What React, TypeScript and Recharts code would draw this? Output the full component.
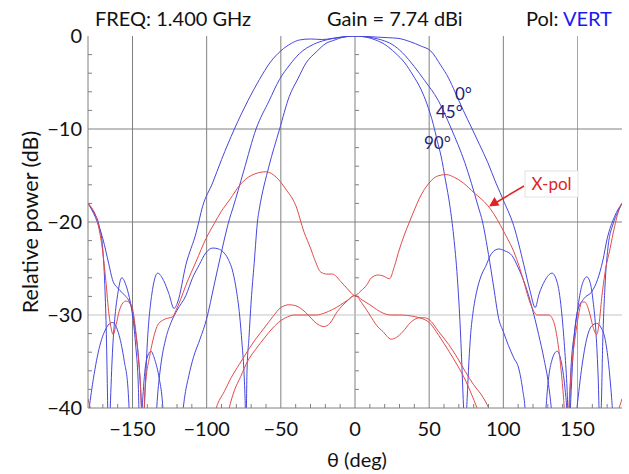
import React from 'react';
import { LineChart, Line, XAxis, YAxis, ReferenceLine } from 'recharts';

// ---------- data (theta in deg, relative power in dB) ----------
const co0Theta = [-180, -175, -170, -166, -163.5, -160, -157, -154.5, -152, -150, -148, -146, -144.5, -143, -141.5, -140, -137, -133, -129, -125.5, -122, -119.5, -114, -107, -102.7, -96, -90, -81.3, -72, -64.5, -57, -50, -43, -37.5, -30, -22, -15, -8, 0,
  8, 15, 22, 29, 37, 44.7, 51, 58, 63, 67.4, 73, 79, 84, 89.5, 95, 100.7, 107, 113.8, 118, 121.5, 124, 128, 132.8, 136.5, 139.5, 141.5, 143, 144, 145.5, 148, 150, 154.5, 159.6, 163.5, 167, 170, 175, 180];
const co0Power = [-18, -19.5, -21.8, -24.5, -26.2, -27.1, -27.6, -28, -28.6, -29.6, -31.8, -34.5, -38, -42, -38, -33, -27.8, -25.5, -26.3, -27.7, -29.3, -28.6, -24.6, -21.1, -18.3, -15.8, -13.3, -10, -6.9, -4.7, -2.8, -1.6, -0.8, -0.43, -0.32, -0.38, -0.25, -0.08, 0,
  -0.05, -0.12, -0.18, -0.25, -0.6, -1.1, -1.6, -3.2, -4.5, -6, -8, -10, -11.7, -13.6, -15.8, -17.9, -20.4, -24.6, -27.4, -29.2, -27.8, -26.3, -25.5, -26.6, -30, -34, -38, -42, -36, -31.8, -29.6, -28.2, -27.5, -26.2, -24.2, -21.8, -19.4, -18];

const co45Theta = [-180, -176, -172.5, -170, -168.5, -167.5, -166.7, -166, -165, -163.5, -162, -160, -157.2, -154, -151.5, -150, -148, -146, -145, -143.5, -141.5, -139.5, -137.6, -135, -132, -130, -128.6, -122, -116.5, -115, -112, -109, -104.5, -100, -95, -90, -84.5, -82.5, -75, -66.7, -58, -51, -44, -37.5, -28, -19.6, -12, -6, 0,
  6, 12, 18, 25, 32, 40, 47, 56, 65, 74, 83, 86, 90, 93.5, 96.9, 100, 103.5, 107, 110.3, 113, 114.8, 116, 122, 128.3, 130, 132.5, 136.2, 139, 141.5, 142.9, 144, 145.5, 147.5, 150, 153, 156.3, 158.5, 160.5, 162.5, 164, 165, 166, 167, 168.5, 170.5, 174, 177, 180];
const co45Power = [-18, -19, -20.4, -23, -27.5, -33, -40, -45, -40, -34, -30.5, -27.8, -26, -27, -28.6, -30, -33, -38, -44, -40, -35.8, -34.3, -33.9, -34.8, -36.8, -39, -42, -50, -41, -39, -36.5, -34.6, -32.6, -30.4, -26.8, -23.2, -19.6, -18.6, -14.5, -10, -7, -4.7, -3.1, -1.9, -0.9, -0.43, -0.2, -0.07, 0,
  -0.07, -0.2, -0.43, -0.9, -1.8, -3.3, -4.8, -6.9, -10, -13.6, -18.3, -20, -23.5, -27, -30.4, -31.8, -33.3, -34.6, -35.7, -38, -40.5, -46, -50, -41, -37.5, -35, -33.9, -35, -37.8, -40.5, -45, -39, -33, -29.5, -26.8, -25.9, -26.5, -28.5, -32, -37, -42, -40, -33, -27, -22.8, -20.2, -19, -18];

const co90Theta = [-180, -177, -172.5, -168, -163.5, -159, -155.5, -153, -152.3, -151, -145, -138, -134.5, -133, -131, -127.5, -124, -120, -114, -109.5, -105, -100.5, -95.8, -92, -89, -85.5, -82.3, -79.8, -77.8, -76.2, -75.1, -74.2, -73.5, -72.8, -71.5, -70, -68, -65.5, -64.5, -58, -51, -44.3, -38.5, -33, -26, -19.6, -14, -8.3, 0,
  8, 13.4, 20, 27, 33.6, 39, 44.7, 48.5, 52.8, 55.5, 58, 61, 64, 66.5, 69, 71, 72.2, 73.2, 74.2, 75.6, 76.8, 78, 79.5, 82, 85, 88, 92, 96.9, 101, 105.8, 110, 114.8, 119, 123.8, 127.5, 130.5, 132.7, 134.5, 142, 149.6, 153, 156.3, 159.5, 162.9, 166, 168.5, 171, 173, 174, 177, 180];
const co90Power = [-41, -37.5, -33.6, -31.5, -30.8, -32.2, -35, -38, -40, -44, -50, -48, -42, -38.5, -35.5, -32.5, -30.8, -29.5, -27.9, -26, -24.6, -23.3, -22.8, -22.9, -23.2, -24, -25.4, -27.5, -30, -33, -35.4, -38.5, -42, -36, -32.5, -28.5, -24.5, -19.6, -18.6, -14, -10.1, -6.5, -4.6, -2.9, -1.7, -0.8, -0.45, -0.14, 0,
  -0.14, -0.4, -0.9, -1.8, -2.9, -4.2, -5.8, -7.3, -9.5, -11.3, -12.9, -15.5, -18.3, -21.5, -26, -31.5, -36, -40, -43, -39, -35, -32, -29.8, -27.5, -25.8, -24.8, -23.4, -22.9, -23.1, -23.6, -24.9, -26.8, -29, -32.1, -34.8, -37.5, -40.7, -45, -50, -40, -35.5, -32.5, -31.2, -30.9, -31.4, -32.5, -35.3, -38.9, -41, -43, -40.5];

const xpol45Theta = [-180, -177, -174.8, -172.5, -170.3, -168, -165.8, -164.3, -163.1, -161, -159, -156.5, -154.5, -152, -150, -148.2, -146.6, -144.5, -143, -141.5, -138.5, -136.5, -133.1, -130, -127.5, -123, -120.7, -117.5, -114, -107, -100.5, -95, -90.3, -84, -78, -70, -60, -53, -46.5, -40, -34.3, -30, -27.5, -23, -19, -15.2, -9.6, -5, 0,
  4, 7.8, 11, 15.6, 19, 23.3, 26.5, 30, 33, 36.7, 40.3, 43.3, 50, 55, 61.5, 67, 73, 80.5, 85, 89.3, 93.5, 98.2, 102.5, 107.1, 110.5, 113.8, 117, 120.5, 122.8, 127, 130.6, 133.9, 135.8, 137.3, 139, 140.6, 142.8, 144.5, 145.8, 147.5, 149.6, 151.5, 153, 155, 156.3, 158.5, 160.5, 162.9, 164.5, 166.3, 168.5, 171.9, 175, 178.6, 180];
const xpol45Power = [-18, -18.6, -19.3, -20.8, -22.9, -26.3, -30, -31.5, -32.1, -31, -29.6, -28.7, -28.5, -28.7, -29.3, -31.2, -33.6, -38, -44, -38, -34.5, -32.9, -31.1, -30.6, -30.4, -30.2, -29.5, -28.3, -26.8, -24.2, -21.8, -20.2, -18.9, -17.5, -16.1, -15, -14.6, -15.2, -16.5, -18.2, -21.1, -22.8, -23.9, -25.4, -25.6, -25.6, -26.4, -27.2, -27.9,
  -27.4, -26.8, -26, -25.7, -25.8, -26.1, -24.8, -22.9, -21.5, -20, -18.6, -17.5, -15.8, -15.1, -14.9, -15.2, -15.8, -16.9, -17.5, -18.2, -19.1, -20.4, -21.7, -23.2, -24.7, -26.4, -28.2, -29.6, -30, -30, -30, -30.7, -32, -33.6, -36, -38.9, -44, -39, -36, -33.5, -31.1, -29.3, -28.6, -28.6, -28.9, -30, -31.3, -32.1, -31, -28.2, -25.5, -22.9, -20.5, -18.4, -18];

const xpol0Theta = [-180, -177, -170, -150, -120, -100, -92.7, -88, -83.7, -78, -72.5, -67, -61.2, -55.5, -50, -44.4, -40, -36.5, -33.5, -30.9, -27.5, -24, -20.8, -17, -11.8, -6, 0,
  5, 10, 14.5, 18.9, 24.4, 28, 32.2, 37.5, 43.3, 47, 50, 56.5, 63.3, 69, 74.4, 80, 86.5, 91.5, 100, 130, 160, 172, 177, 180];
const xpol0Power = [-39, -41, -46, -55, -52, -44, -39.6, -38.2, -36.8, -35.3, -33.9, -32.6, -31.4, -30.2, -29.2, -28.9, -29, -29.3, -29.7, -30.1, -30.7, -31.1, -31.25, -30.9, -29.6, -28.6, -27.9,
  -28.8, -30, -31.1, -31.8, -32.6, -32.4, -31.8, -30.8, -30.3, -30.3, -30.5, -31.8, -33.2, -34.6, -36.1, -37.5, -38.9, -40.5, -45, -52, -46, -42, -40.5, -39];

const xpol90Theta = [-180, -120, -95, -88, -84.8, -81.5, -77, -72.5, -67, -61.2, -55.5, -50, -45.5, -41, -36.5, -32, -26, -20.8, -15, -9.6, -5, 0,
  5, 10, 14.5, 18.9, 24.5, 30, 35.5, 41, 45.5, 50, 56.5, 63.3, 69, 74.4, 78.5, 82.2, 88, 110, 150, 180];
const xpol90Power = [-45, -55, -47, -42.5, -40, -38.2, -36.6, -35, -33.7, -32.5, -31.4, -30.6, -30.2, -30, -30, -30, -30, -29.8, -29.4, -28.9, -28.4, -27.9,
  -28.4, -28.9, -29.4, -29.8, -30, -30, -30.05, -30.2, -30.4, -30.8, -32.2, -33.9, -35.4, -37, -38.5, -40, -43, -50, -52, -45];

// ---------- axes ----------
const xTicks = [-180, -170, -160, -150, -140, -130, -120, -110, -100, -90, -80, -70, -60, -50, -40, -30, -20, -10, 0, 10, 20, 30, 40, 50, 60, 70, 80, 90, 100, 110, 120, 130, 140, 150, 160, 170, 180];
const xLabelTicks = [-150, -100, -50, 0, 50, 100, 150];
const yTicks = [-40, -38, -36, -34, -32, -30, -28, -26, -24, -22, -20, -18, -16, -14, -12, -10, -8, -6, -4, -2, 0];
const yLabelTicks = [-40, -30, -20, -10, 0];
const xGrid = [-150, -100, -50, 0, 50, 100, 150];
const yGrid = [-10, -20, -30];

const FONT = 'Lato, "Open Sans", sans-serif';
const BLUE = '#4646de';
const RED = '#e44a4a';
const GRID = '#808080';
const LIGHT = '#c4c4c4';

const pts = (t: number[], p: number[]) => t.map((theta, i) => ({ theta, db: p[i] }));

const series = [
  { name: 'co0', data: pts(co0Theta, co0Power), color: BLUE },
  { name: 'co45', data: pts(co45Theta, co45Power), color: BLUE },
  { name: 'co90', data: pts(co90Theta, co90Power), color: BLUE },
  { name: 'x45', data: pts(xpol45Theta, xpol45Power), color: RED },
  { name: 'x0', data: pts(xpol0Theta, xpol0Power), color: RED },
  { name: 'x90', data: pts(xpol90Theta, xpol90Power), color: RED },
];

const fmt = (v: number) => (v < 0 ? '\u2212' + Math.abs(v) : String(v));

const BottomTick = (p: any) => {
  const v = p.payload.value;
  const major = xLabelTicks.includes(v);
  return (
    <g>
      {!major && Math.abs(v) !== 180 && <line x1={p.x} x2={p.x} y1={p.y} y2={p.y - 4} stroke={GRID} />}
      {major && (
        <text x={p.x} y={p.y + 28} textAnchor="middle" fontSize={20} fontFamily={FONT} fill="#111">{fmt(v)}</text>
      )}
    </g>
  );
};
const TopTick = (p: any) => {
  const v = p.payload.value;
  const major = xLabelTicks.includes(v);
  return <g>{!major && Math.abs(v) !== 180 && <line x1={p.x} x2={p.x} y1={p.y} y2={p.y + 4} stroke={GRID} />}</g>;
};
const LeftTick = (p: any) => {
  const v = p.payload.value;
  const major = yLabelTicks.includes(v);
  return (
    <g>
      {!major && <line x1={p.x} x2={p.x + 4} y1={p.y} y2={p.y} stroke={GRID} />}
      {major && (
        <text x={p.x - 6} y={p.y + 7} textAnchor="end" fontSize={20} fontFamily={FONT} fill="#111">{fmt(v)}</text>
      )}
    </g>
  );
};
const RightTick = (p: any) => {
  const v = p.payload.value;
  const major = yLabelTicks.includes(v);
  return <g>{!major && <line x1={p.x} x2={p.x - 4} y1={p.y} y2={p.y} stroke={GRID} />}</g>;
};

const CenterAxis = (p: any) => {
  const { x1, y1, x2, y2 } = p;
  const n = yTicks.length - 1;
  return (
    <g>
      <line x1={x1} y1={y1} x2={x2} y2={y2} stroke={GRID} />
      {yTicks.map((v, i) =>
        yLabelTicks.includes(v) ? null : (
          <line key={v} x1={x1} x2={x1 + 4} y1={y1 + ((y2 - y1) * i) / n} y2={y1 + ((y2 - y1) * i) / n} stroke={GRID} />
        )
      )}
    </g>
  );
};

const annotations = [
  { text: '0°', x: 455, y: 100 },
  { text: '45°', x: 436, y: 118 },
  { text: '90°', x: 424, y: 149 },
];

export default function App() {
  return (
    <div style={{ position: 'absolute', left: 0, top: 0, width: 629, height: 474, background: '#fff' }}>
      <LineChart width={629} height={474} margin={{ top: 36, right: 7, bottom: 0, left: 28 }}>
        <XAxis xAxisId="b" type="number" dataKey="theta" domain={[-180, 180]} ticks={xTicks} interval={0}
          allowDataOverflow tickSize={0} tickMargin={0} tickLine={false} axisLine={{ stroke: GRID }} height={66}
          tick={(p: any) => <BottomTick {...p} />} />
        <XAxis xAxisId="t" orientation="top" type="number" dataKey="theta" domain={[-180, 180]} ticks={xTicks} interval={0}
          allowDataOverflow tickSize={0} tickMargin={0} tickLine={false} axisLine={{ stroke: GRID }} height={0}
          tick={(p: any) => <TopTick {...p} />} />
        <YAxis yAxisId="l" type="number" domain={[-40, 0]} ticks={yTicks} interval={0} allowDataOverflow
          tickSize={0} tickMargin={0} tickLine={false} axisLine={{ stroke: GRID }} width={60}
          tick={(p: any) => <LeftTick {...p} />} />
        <YAxis yAxisId="r" orientation="right" type="number" domain={[-40, 0]} ticks={yTicks} interval={0} allowDataOverflow
          tickSize={0} tickMargin={0} tickLine={false} axisLine={{ stroke: GRID }} width={0}
          tick={(p: any) => <RightTick {...p} />} />
        {xGrid.map((v) =>
          v === 0 ? (
            <ReferenceLine key={'x' + v} xAxisId="b" yAxisId="l" x={v} shape={(p: any) => <CenterAxis {...p} />} />
          ) : (
            <ReferenceLine key={'x' + v} xAxisId="b" yAxisId="l" x={v} stroke={v === 150 ? '#a8a8a8' : GRID} strokeWidth={1} />
          )
        )}
        {yGrid.map((v) => (
          <ReferenceLine key={'y' + v} xAxisId="b" yAxisId="l" y={v} stroke={v === -30 ? LIGHT : GRID} strokeWidth={1} />
        ))}
        {series.map((s) => (
          <Line key={s.name} xAxisId="b" yAxisId="l" data={s.data} dataKey="db" type="monotone" stroke={s.color}
            strokeWidth={1} dot={false} activeDot={false} isAnimationActive={false} />
        ))}
      </LineChart>
      <svg width={629} height={474} style={{ position: 'absolute', left: 0, top: 0, pointerEvents: 'none' }}
        fontFamily={FONT}>
        <text x={95} y={26} fontSize={20} fill="#111">FREQ: 1.400 GHz</text>
        <text x={327} y={26} fontSize={20} fill="#111">Gain = 7.74 dBi</text>
        <text x={526} y={26} fontSize={20} fill="#111">Pol: <tspan fill="#1a1af0">VERT</tspan></text>
        <text transform="translate(38,222) rotate(-90)" textAnchor="middle" fontSize={21.5} fill="#111">Relative power (dB)</text>
        <text x={357} y={467} textAnchor="middle" fontSize={20} fill="#111">θ (deg)</text>
        {annotations.map((a) => (
          <text key={a.text} x={a.x} y={a.y} fontSize={17} fill="#22227a">{a.text}</text>
        ))}
        <rect x={525} y={171} width={53} height={26} fill="#fff" stroke="#e2e2e2" />
        <text x={551.5} y={190} textAnchor="middle" fontSize={17} fill="#e02424">X-pol</text>
        <line x1={524} y1={186} x2={497} y2={202} stroke="#e02424" strokeWidth={1.5} />
        <polygon points="489,206.5 494.5,197 499.5,205.5" fill="#e02424" />
      </svg>
    </div>
  );
}
